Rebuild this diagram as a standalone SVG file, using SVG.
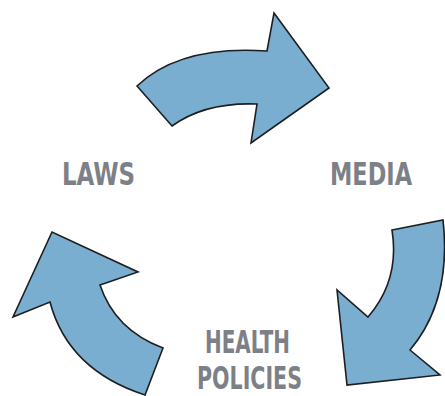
<svg xmlns="http://www.w3.org/2000/svg" width="445" height="396" viewBox="0 0 445 396">
<style>
.arrow{fill:#79aed1;stroke:#1e1e1e;stroke-width:1.6;stroke-linejoin:miter}
.lbl{font-family:"DejaVu Sans Condensed","Liberation Sans",sans-serif;font-weight:bold;font-size:32px;fill:#7e8087}
</style>
<rect width="445" height="396" fill="#ffffff"/>
<g id="connectors">
<path id="arrow-laws-media" class="arrow" d="M137,86 L172,126 Q205,102 257,104 L251,143 L329,88 L274,13 L267,51 Q180,45 137,86 Z"/>
<path id="arrow-media-health" class="arrow" d="M392,230 L443,220 Q452,300 410,350 L440,375 L347,385 L337,290 L368,317 Q400,280 392,230 Z"/>
<path id="arrow-health-laws" class="arrow" d="M163,348 L145,395 Q68,370 50,302 L13,317 L52,232 L138,272 L100,285 Q115,330 163,348 Z"/>
</g>
<g id="laws"><text class="lbl" x="62" y="185" textLength="73" lengthAdjust="spacingAndGlyphs">LAWS</text></g>
<g id="media"><text class="lbl" x="330" y="185" textLength="82" lengthAdjust="spacingAndGlyphs">MEDIA</text></g>
<g id="health-policies"><text class="lbl" x="205" y="353" textLength="85" lengthAdjust="spacingAndGlyphs">HEALTH</text><text class="lbl" x="197" y="389" font-size="30" textLength="105" lengthAdjust="spacingAndGlyphs">POLICIES</text></g>
</svg>
